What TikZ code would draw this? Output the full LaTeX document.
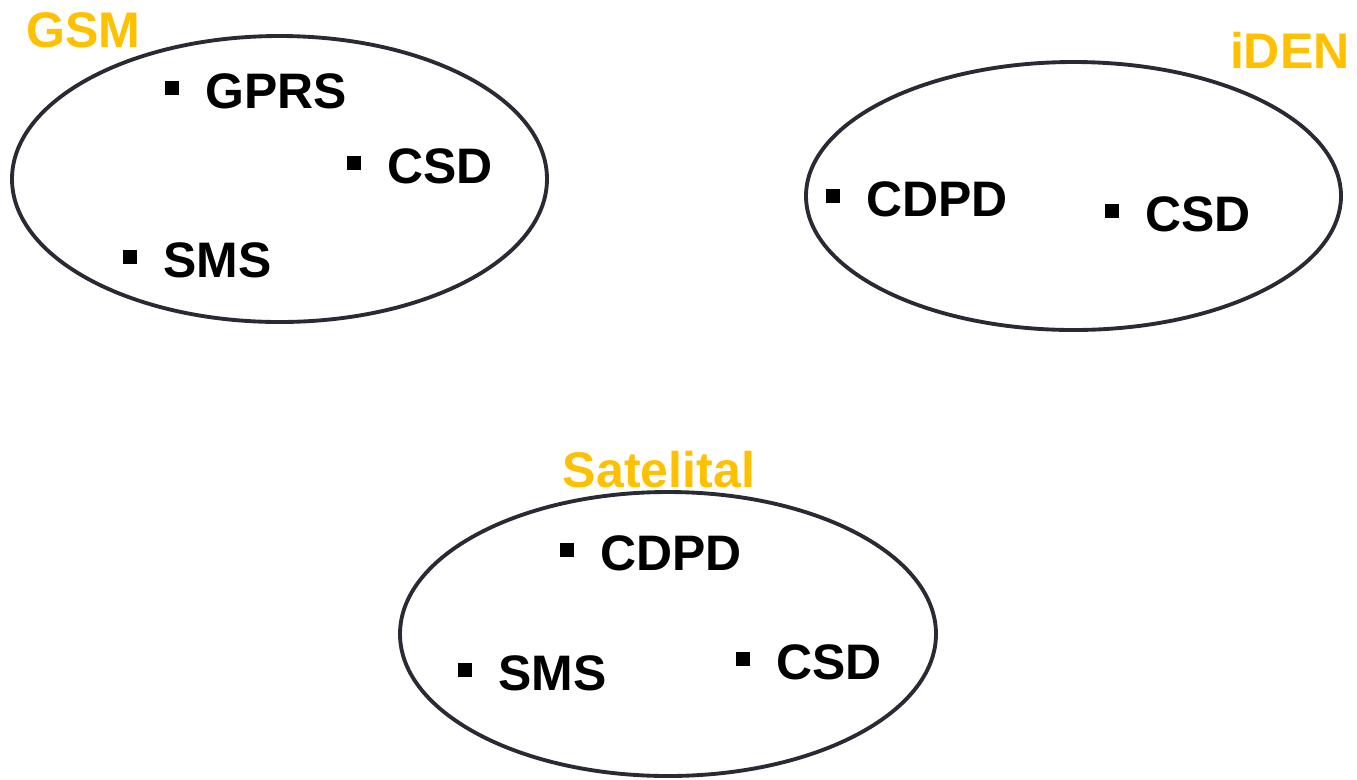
\documentclass[tikz,border=0pt]{standalone}
\usepackage{fontspec}
\setmainfont{Liberation Sans}
\usetikzlibrary{positioning}
\definecolor{netorange}{HTML}{FFC000}
\definecolor{ringgray}{HTML}{2A2A35}
\tikzset{ring/.style = {draw=ringgray, line width=2.2pt}}
\tikzset{netname/.style = {text=netorange, inner sep=0, font=\fontsize{28.5}{33}\selectfont\bfseries}}
\tikzset{service/.style = {anchor=base west, inner sep=0, font=\fontsize{28.4}{34}\selectfont\bfseries}}
\tikzset{sq/.style = {fill, rectangle, inner sep=0, minimum size=0.28cm}}
\begin{document}
\begin{tikzpicture}[x=0.02cm, y=-0.02cm]
      \useasboundingbox (0, 0) rectangle (1357, 779);
      % networks
      \draw [ring] (279.5, 179) ellipse [x radius=267.5, y radius=143];
      \draw [ring] (1073.5, 196) ellipse [x radius=267.5, y radius=134];
      \draw [ring] (668, 634) ellipse [x radius=268, y radius=142];
      \node [netname, anchor=base west] (gsm) at (26, 47) {GSM};
      \node [netname, anchor=base east] (iden) at (1350, 68) {iDEN};
      \node [netname, anchor=base] (sat) at (659, 487) {Satelital};
      % services
      \node [service] (gprs) at (205, 108) {GPRS};
      \node [service] (csd1) at (387, 183) {CSD};
      \node [service] (sms1) at (163, 277) {SMS};
      \node [service] (cdpd2) at (866, 216) {CDPD};
      \node [service] (csd2) at (1145, 231) {CSD};
      \node [service] (cdpd3) at (600, 570) {CDPD};
      \node [service] (sms3) at (498, 690) {SMS};
      \node [service] (csd3) at (776, 679) {CSD};
      \foreach \s in {gprs, csd1, sms1, cdpd2, csd2, cdpd3, sms3, csd3}
        \node [sq, left=0.52cm of \s.west, yshift=0.05cm] (\s-b) {};
    \end{tikzpicture}
\end{document}
